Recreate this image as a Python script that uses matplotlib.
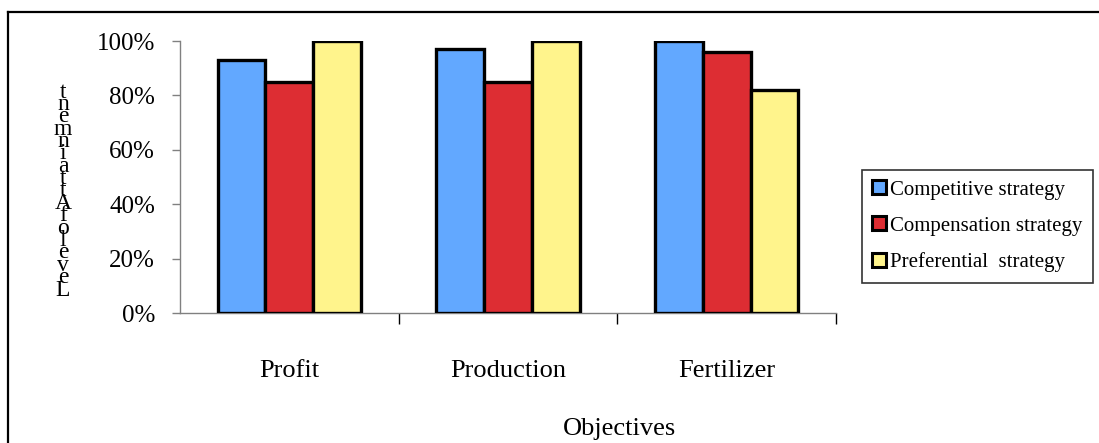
import matplotlib
matplotlib.use("Agg")
import matplotlib.pyplot as plt
from matplotlib.patches import Patch
from matplotlib.lines import Line2D
import numpy as np

categories = ["Profit", "Production", "Fertilizer"]
series_names = ["Competitive strategy", "Compensation strategy", "Preferential  strategy"]
competitive = [0.93, 0.97, 1.00]
compensation = [0.85, 0.85, 0.96]
preferential = [1.00, 1.00, 0.82]
y_ticks = [0.0, 0.2, 0.4, 0.6, 0.8, 1.0]
y_tick_labels = ["0%", "20%", "40%", "60%", "80%", "100%"]
y_label = "Level of Attainment"
x_label = "Objectives"

colors = ["#62A8FF", "#DD2D33", "#FFF48C"]
serif = "Liberation Serif"

W, H = 1099, 443
fig = plt.figure(figsize=(W / 100, H / 100), dpi=100)
fig.patch.set_facecolor("white")

# outer chart border (top and left edges visible)
fig.add_artist(Line2D([8 / W, 8 / W], [0, 1 - 12 / H], transform=fig.transFigure,
                      color="black", lw=1.6))
fig.add_artist(Line2D([8 / W, 1], [1 - 12 / H, 1 - 12 / H], transform=fig.transFigure,
                      color="black", lw=1.6))

left, right = 180 / W, 836 / W
bottom, top = 1 - 313 / H, 1 - 41 / H
ax = fig.add_axes([left, bottom, right - left, top - bottom])

x = np.arange(len(categories))
bw = 0.219
for i, vals in enumerate([competitive, compensation, preferential]):
    ax.bar(x + (i - 1) * bw, vals, width=bw, color=colors[i], edgecolor="black",
           linewidth=2.4, label=series_names[i], zorder=3)

ax.set_xlim(-0.5, 2.5)
ax.set_ylim(0, 1.0)

for s in ["top", "right"]:
    ax.spines[s].set_visible(False)
ax.spines["left"].set_color("#808080")
ax.spines["bottom"].set_color("#808080")
ax.spines["left"].set_linewidth(1.0)
ax.spines["bottom"].set_linewidth(1.0)

ax.set_yticks(y_ticks)
ax.set_yticklabels(y_tick_labels, fontfamily=serif, fontsize=18)
ax.tick_params(axis="y", direction="out", length=6, width=1, color="#808080", pad=12)

ax.set_xticks([0.5, 1.5, 2.5])
ax.set_xticklabels([])
ax.tick_params(axis="x", which="major", direction="out", length=8, width=1, color="black")
ax.set_xticks(x, minor=True)
ax.set_xticklabels(categories, minor=True, fontfamily=serif, fontsize=19)
ax.tick_params(axis="x", which="minor", length=0, pad=34)

# stacked vertical axis title, one upright character per row
chars = [c for c in y_label if c != " "]
y0, y1 = 290, 92
for k, c in enumerate(chars):
    yy = y0 + (y1 - y0) * k / (len(chars) - 1)
    fig.text(63 / W, 1 - yy / H, c, fontfamily=serif, fontsize=17,
             ha="center", va="center")

fig.text(620 / W, 1 - 429 / H, x_label, fontfamily=serif, fontsize=19,
         ha="center", va="center")

handles = [Patch(facecolor=colors[i], edgecolor="black", linewidth=2.2) for i in range(3)]
leg = fig.legend(handles, series_names, loc="upper left",
                 bbox_to_anchor=(862 / W, 1 - 170 / H),
                 prop={"family": serif, "size": 15},
                 frameon=True, fancybox=False, edgecolor="black",
                 handlelength=0.65, handleheight=0.65, handletextpad=0.2,
                 labelspacing=0.8, borderpad=0.5, borderaxespad=0)
leg.get_frame().set_linewidth(1.2)

fig.savefig("out.png", dpi=100, facecolor="white")
